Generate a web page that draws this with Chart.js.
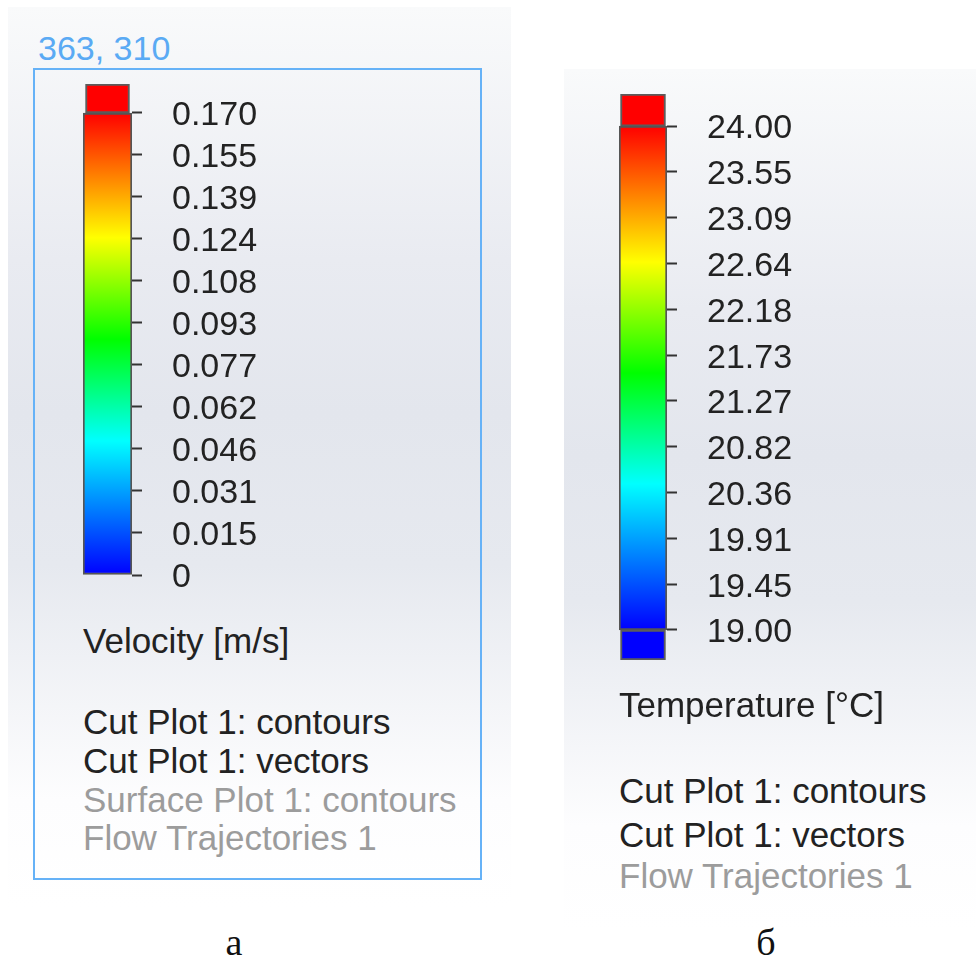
<!DOCTYPE html>
<html lang="ru">
<head>
    <meta charset="UTF-8">
    <title>Velocity / Temperature legends</title>
    <script src="https://cdn.jsdelivr.net/npm/chart.js"></script>
    <style>
        body {
            margin: 0;
            background: #ffffff;
            font-family: "Liberation Sans", Arial, sans-serif;
        }
        #page {
            position: relative;
            width: 976px;
            height: 957px;
            overflow: hidden;
        }
        .panel {
            position: absolute;
            background: linear-gradient(to bottom, #f9fafb 0%, #e9ebf1 28%, #e3e6ed 45%, #e6e9ef 62%, #fdfdfe 88%, #ffffff 100%);
        }
        .frame {
            position: absolute;
            box-sizing: border-box;
            border: 2px solid #66b2f7;
        }
        .txt {
            position: absolute;
            white-space: nowrap;
            font-size: 35px;
            line-height: 1;
            color: #222222;
        }
        .grey {
            color: #9c9c9c;
        }
        .cap {
            position: absolute;
            width: 100px;
            text-align: center;
            font-family: "Liberation Serif", "Times New Roman", serif;
            font-size: 38px;
            line-height: 1;
            color: #111;
        }
        canvas {
            position: absolute;
        }
    </style>
</head>
<body>
<div id="page">
    <div class="panel" style="left:8px; top:7px; width:503px; height:900px;"></div>
    <div class="panel" style="left:564px; top:69px; width:412px; height:860px;"></div>

    <div class="txt" style="left:38px; top:31px; font-size:34px; color:#5aaaf4;">363, 310</div>
    <div class="frame" style="left:33px; top:68px; width:449px; height:812px;"></div>

    <div style="position:absolute; left:40px; top:51px; width:300px; height:560px;">
        <canvas id="velocityChart"></canvas>
    </div>
    <div class="txt" style="left:83px; top:623px;">Velocity [m/s]</div>
    <div class="txt" style="left:83px; top:704px;">Cut Plot 1: contours</div>
    <div class="txt" style="left:83px; top:743px;">Cut Plot 1: vectors</div>
    <div class="txt grey" style="left:83px; top:782px;">Surface Plot 1: contours</div>
    <div class="txt grey" style="left:83px; top:820px;">Flow Trajectories 1</div>

    <div style="position:absolute; left:580px; top:60px; width:340px; height:640px;">
        <canvas id="temperatureChart"></canvas>
    </div>
    <div class="txt" style="left:619px; top:687px;">Temperature [°C]</div>
    <div class="txt" style="left:619px; top:773px;">Cut Plot 1: contours</div>
    <div class="txt" style="left:619px; top:817px;">Cut Plot 1: vectors</div>
    <div class="txt grey" style="left:619px; top:858px;">Flow Trajectories 1</div>

    <div class="cap" style="left:184px; top:923px;">а</div>
    <div class="cap" style="left:716px; top:923px;">б</div>
</div>

<script>
    // scale ranges and tick labels
    const velocityRange = [0, 0.170];
    const velocityTicks = ['0.170', '0.155', '0.139', '0.124', '0.108', '0.093',
                           '0.077', '0.062', '0.046', '0.031', '0.015', '0'];
    const temperatureRange = [19.00, 24.00];
    const temperatureTicks = ['24.00', '23.55', '23.09', '22.64', '22.18', '21.73',
                              '21.27', '20.82', '20.36', '19.91', '19.45', '19.00'];

    // rainbow palette of the colour bar, top to bottom
    const palette = [
        [0.00, '#ff0000'],
        [0.27, '#ffff00'],
        [0.49, '#00ff00'],
        [0.71, '#00ffff'],
        [1.00, '#0000ff']
    ];

    function makeLegend(id, range, labels, opts) {
        const lo = range[0], hi = range[1];
        const step = (hi - lo) / (labels.length - 1);
        const tickValues = labels.map((l, i) => hi - i * step);
        const yMax = hi + opts.overTop * step;
        const yMin = lo - opts.overBottom * step;

        const datasets = [{
            data: [[lo, hi]],
            backgroundColor: function(c) {
                const chart = c.chart;
                if (!chart.chartArea) return '#ff0000';
                const y = chart.scales.y;
                const g = chart.ctx.createLinearGradient(0, y.getPixelForValue(hi), 0, y.getPixelForValue(lo));
                palette.forEach(p => g.addColorStop(p[0], p[1]));
                return g;
            },
            borderColor: '#555555',
            borderWidth: 2,
            borderSkipped: false,
            barPercentage: 1,
            categoryPercentage: 1,
            grouped: false
        }, {
            data: [[hi, yMax]],
            backgroundColor: '#ff0000',
            borderColor: '#5c5c5c',
            borderWidth: 2,
            borderSkipped: false,
            barThickness: opts.boxWidth,
            grouped: false
        }];
        if (opts.overBottom > 0) {
            datasets.push({
                data: [[yMin, lo]],
                backgroundColor: '#0000ff',
                borderColor: '#5c5c5c',
                borderWidth: 2,
                borderSkipped: false,
                barThickness: opts.boxWidth,
                grouped: false
            });
        }

        const ctx = document.getElementById(id).getContext('2d');
        return new Chart(ctx, {
            type: 'bar',
            data: {
                labels: [''],
                datasets: datasets
            },
            options: {
                responsive: true,
                maintainAspectRatio: false,
                animation: false,
                layout: {
                    padding: opts.padding
                },
                plugins: {
                    legend: { display: false },
                    tooltip: { enabled: false }
                },
                scales: {
                    x: {
                        display: false
                    },
                    y: {
                        position: 'right',
                        min: yMin,
                        max: yMax,
                        afterBuildTicks: function(scale) {
                            scale.ticks = tickValues.map(v => ({ value: v }));
                        },
                        afterFit: function(scale) {
                            scale.width = 150;
                            scale.paddingTop = 0;
                            scale.paddingBottom = 0;
                        },
                        border: { display: false },
                        grid: {
                            drawOnChartArea: false,
                            drawTicks: true,
                            tickLength: 10,
                            tickColor: '#333333',
                            tickWidth: 2
                        },
                        ticks: {
                            padding: 30,
                            labelOffset: 3,
                            color: '#222222',
                            font: { family: 'Liberation Sans', size: 34 },
                            callback: function(value, index) {
                                return labels[index];
                            }
                        }
                    }
                }
            }
        });
    }

    makeLegend('velocityChart', velocityRange, velocityTicks, {
        overTop: 0.69,
        overBottom: 0,
        boxWidth: 44,
        padding: { left: 43, right: 58, top: 33, bottom: 36 }
    });

    makeLegend('temperatureChart', temperatureRange, temperatureTicks, {
        overTop: 0.70,
        overBottom: 0.655,
        boxWidth: 45,
        padding: { left: 39, right: 103, top: 34, bottom: 40 }
    });
</script>
</body>
</html>
